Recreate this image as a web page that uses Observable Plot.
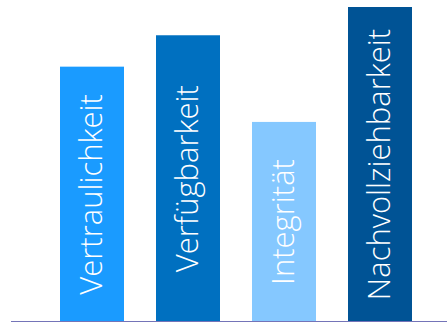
<!DOCTYPE html>
<html>
<head>
<meta charset="utf-8">
<script src="https://cdn.jsdelivr.net/npm/d3@7"></script>
<script src="https://cdn.jsdelivr.net/npm/@observablehq/plot@0.6"></script>
<style>
  html, body { margin: 0; padding: 0; background: #fff; }
  #chart svg { display: block; }
</style>
</head>
<body>
<div id="chart"></div>
<script>
const categories = ["Vertraulichkeit", "Verfügbarkeit", "Integrität", "Nachvollziehbarkeit"];
const values = [81, 91, 63.4, 100];
const colors = ["#1a9bff", "#0070c0", "#85c8ff", "#005395"];

const data = categories.map((c, i) => ({category: c, value: values[i], color: colors[i]}));

const chart = Plot.plot({
  width: 447,
  height: 322,
  marginTop: 7,
  marginBottom: 1,
  marginLeft: 11,
  marginRight: 0,
  style: {background: "#fff"},
  x: {domain: categories, paddingInner: 0.336, paddingOuter: 0.431, align: 0.578, axis: null},
  y: {domain: [0, 100], axis: null},
  marks: [
    Plot.barY(data, {x: "category", y: "value", fill: "color"}),
    Plot.text(data, {
      x: "category",
      y: d => d.value / 2,
      text: "category",
      rotate: -90,
      fill: "#fff",
      fontSize: 31,
      fontWeight: 300,
      fontFamily: "Open Sans",
      textAnchor: "middle",
      lineAnchor: "middle"
    }),
    Plot.ruleY([0], {stroke: "#7474b8", strokeWidth: 1.2})
  ]
});
document.getElementById("chart").appendChild(chart);
</script>
</body>
</html>
